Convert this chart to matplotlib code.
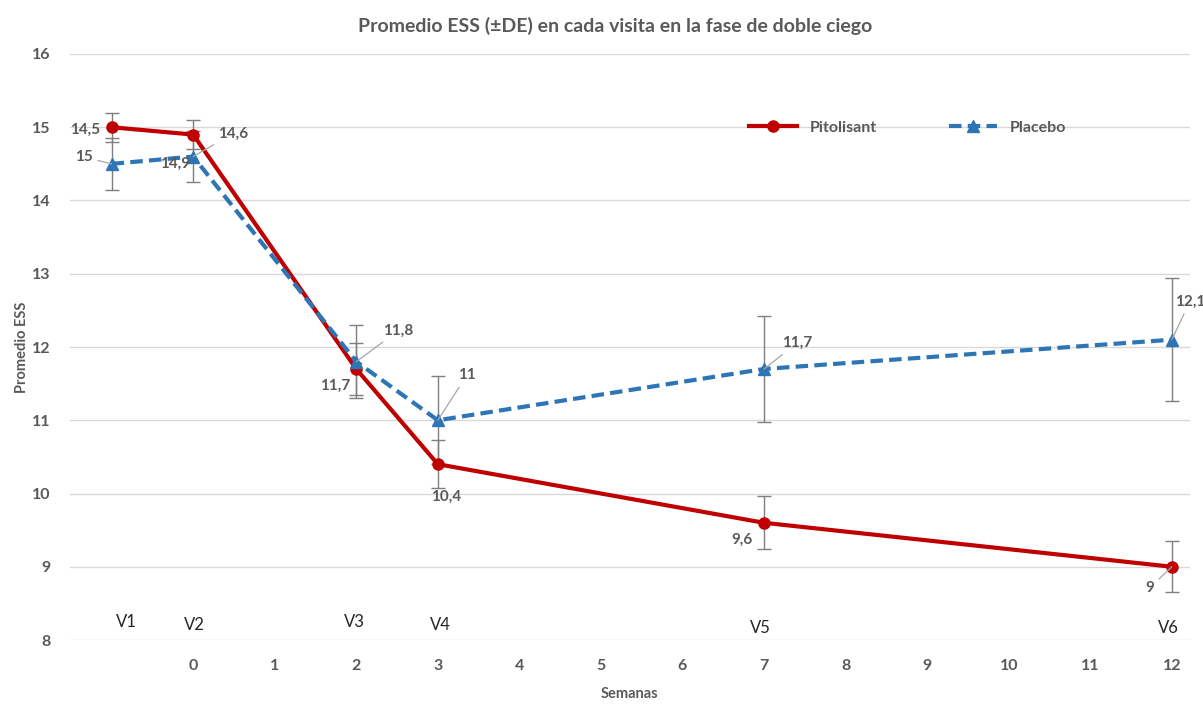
import matplotlib.pyplot as plt

plt.rcParams['font.family'] = ['Lato', 'DejaVu Sans']

semanas = [-1, 0, 2, 3, 7, 12]
visitas = ['V1', 'V2', 'V3', 'V4', 'V5', 'V6']

pitolisant = [15.0, 14.9, 11.7, 10.4, 9.6, 9.0]
pitolisant_de = [0.2, 0.2, 0.35, 0.33, 0.36, 0.35]
pitolisant_etiq = ['14,5', '14,9', '11,7', '10,4', '9,6', '9']

placebo = [14.5, 14.6, 11.8, 11.0, 11.7, 12.1]
placebo_de = [0.35, 0.35, 0.5, 0.6, 0.72, 0.84]
placebo_etiq = ['15', '14,6', '11,8', '11', '11,7', '12,1']

ROJO = '#C00000'
AZUL = '#2E75B6'
GRIS = '#595959'

fig = plt.figure(figsize=(12.03, 7.04), dpi=100)
ax = fig.add_axes([0.0582, 0.0909, 0.9308, 0.8324])

ax.errorbar(semanas, pitolisant, yerr=pitolisant_de, fmt='none', ecolor='#7f7f7f',
            elinewidth=1, capsize=5, capthick=1, zorder=2)
ax.errorbar(semanas, placebo, yerr=placebo_de, fmt='none', ecolor='#7f7f7f',
            elinewidth=1, capsize=5, capthick=1, zorder=2)
ax.plot(semanas, pitolisant, color=ROJO, lw=3, marker='o', ms=8, label='Pitolisant', zorder=3)
ax.plot(semanas, placebo, color=AZUL, lw=3, ls=(0, (3, 1.5)), marker='^', ms=9,
        label='Placebo', zorder=4)

# etiquetas de datos (offset en pixeles, flag = linea guia)
off_pit = [(-26, -3, False), (-18, -29, False), (-21, -17, False),
           (8, -33, False), (-22, -17, False), (-22, -21, True)]
off_pla = [(-28, 7, True), (40, 23, True), (42, 31, True),
           (29, 45, True), (33, 26, True), (18, 38, True)]
lab_style = dict(textcoords='offset pixels', ha='center', va='center',
                 fontsize=11, fontweight='bold', color=GRIS, zorder=5)
for x, y, t, (dx, dy, guia) in zip(semanas, pitolisant, pitolisant_etiq, off_pit):
    ap = dict(arrowstyle='-', color='#a6a6a6', lw=0.9, shrinkA=2, shrinkB=0) if guia else None
    ax.annotate(t, (x, y), xytext=(dx, dy), arrowprops=ap, annotation_clip=False, **lab_style)
for x, y, t, (dx, dy, guia) in zip(semanas, placebo, placebo_etiq, off_pla):
    ap = dict(arrowstyle='-', color='#a6a6a6', lw=0.9, shrinkA=2, shrinkB=0) if guia else None
    ax.annotate(t, (x, y), xytext=(dx, dy), arrowprops=ap, annotation_clip=False, **lab_style)

# nombres de las visitas
vis_y = [8.25, 8.21, 8.25, 8.21, 8.16, 8.16]
vis_dx = [0.18, 0.02, -0.02, 0.03, -0.05, -0.04]
for x, v, yy, dx in zip(semanas, visitas, vis_y, vis_dx):
    ax.text(x + dx, yy, v, ha='center', va='center', fontsize=12, color='#262626')

ax.set_xlim(-1.51, 12.22)
ax.set_ylim(8, 16)
ax.set_xticks(range(0, 13))
ax.set_yticks(range(8, 17))
ax.grid(axis='y', color='#d9d9d9', lw=1)
ax.set_axisbelow(True)
for s in ax.spines.values():
    s.set_visible(False)
ax.tick_params(length=0, labelsize=11.5, labelcolor=GRIS)
ax.tick_params(axis='y', pad=14)
ax.tick_params(axis='x', pad=14)
for lbl in ax.get_xticklabels() + ax.get_yticklabels():
    lbl.set_fontweight('bold')

ax.set_xlabel('Semanas', fontsize=10.5, fontweight='bold', color=GRIS, labelpad=10)
ax.set_ylabel('Promedio ESS', fontsize=10.5, fontweight='bold', color=GRIS, labelpad=2)
fig.text(0.511, 0.963, 'Promedio ESS (±DE) en cada visita en la fase de doble ciego',
         ha='center', va='center', fontsize=14, fontweight='bold', color=GRIS)

ax.legend(loc='center', bbox_to_anchor=(0.748, 0.874), ncol=2, frameon=False,
          handlelength=3.0, columnspacing=4.5, labelcolor=GRIS,
          prop={'weight': 'bold', 'size': 11.5})

fig.savefig('out.png', dpi=100)
